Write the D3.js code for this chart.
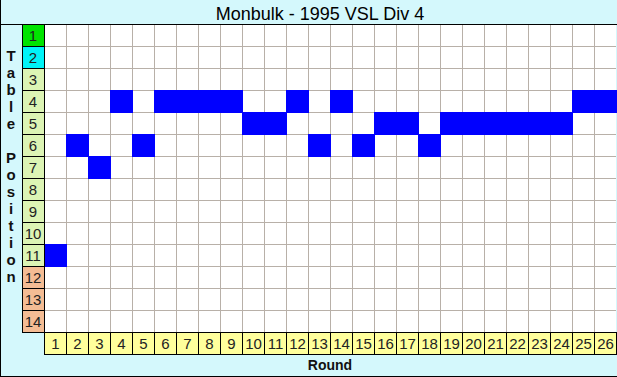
<!DOCTYPE html>
<html>
<head>
<meta charset="utf-8">
<script src="https://cdn.jsdelivr.net/npm/d3@7"></script>
<style>
  body { margin: 0; background: #fff; }
  svg { display: block; }
  text { font-family: Arial, "Liberation Sans", sans-serif; }
</style>
</head>
<body>
<div id="chart"></div>
<script>
// 数据
const title = 'Monbulk - 1995 VSL Div 4';
const rounds = d3.range(1, 27);
const positions = d3.range(1, 15);
const tablePosition = [11, 6, 7, 4, 6, 4, 4, 4, 4, 5, 5, 4, 6, 4, 6, 5, 5, 6, 5, 5, 5, 5, 5, 5, 4, 4];
const yLabel = ['T', 'a', 'b', 'l', 'e', '', 'P', 'o', 's', 'i', 't', 'i', 'o', 'n'];
const xLabel = 'Round';

const width = 617, height = 377;
const plot = { left: 44, top: 24, right: 616, bottom: 332 };

// 位置标签颜色
function posColor(p) {
  if (p === 1) return '#00e400';
  if (p === 2) return '#00f4f8';
  if (p >= 12) return '#f4bc94';
  return '#dcf4b4';
}

const svg = d3.select('#chart')
  .append('svg')
  .attr('width', width)
  .attr('height', height)
  .attr('shape-rendering', 'crispEdges');

// 背景
svg.append('rect')
  .attr('x', 0).attr('y', 0)
  .attr('width', width).attr('height', height)
  .style('fill', '#d4f8fc');

const x = d3.scaleBand().domain(rounds).range([plot.left, plot.right]);
const y = d3.scaleBand().domain(positions).range([plot.top, plot.bottom]);

// 白色绘图区
svg.append('rect')
  .attr('x', plot.left).attr('y', plot.top)
  .attr('width', plot.right - plot.left).attr('height', plot.bottom - plot.top)
  .style('fill', '#fff');

// 网格线
svg.append('g')
  .selectAll('line.v')
  .data(rounds.slice(1))
  .join('line')
  .attr('x1', d => x(d) + 0.5).attr('x2', d => x(d) + 0.5)
  .attr('y1', plot.top).attr('y2', plot.bottom)
  .style('stroke', '#b8b0a8');

svg.append('g')
  .selectAll('line.h')
  .data(positions.slice(1))
  .join('line')
  .attr('x1', plot.left).attr('x2', plot.right)
  .attr('y1', d => y(d) + 0.5).attr('y2', d => y(d) + 0.5)
  .style('stroke', '#b8b0a8');

// 数据格子
svg.append('g')
  .selectAll('rect')
  .data(tablePosition)
  .join('rect')
  .attr('x', (d, i) => x(rounds[i]))
  .attr('y', d => y(d))
  .attr('width', x.bandwidth() + 1)
  .attr('height', y.bandwidth() + 1)
  .style('fill', '#0000ff');

// 左侧位置标签
const rowCells = svg.append('g')
  .selectAll('g')
  .data(positions)
  .join('g');

rowCells.append('rect')
  .attr('x', plot.left - 22 + 0.5)
  .attr('y', d => y(d) + 0.5)
  .attr('width', 22)
  .attr('height', y.bandwidth())
  .style('fill', d => posColor(d))
  .style('stroke', '#000');

rowCells.append('text')
  .attr('x', plot.left - 11)
  .attr('y', d => y(d) + y.bandwidth() / 2 + 6)
  .attr('text-anchor', 'middle')
  .style('font-size', '15px')
  .style('fill', '#222')
  .text(d => d);

// 底部轮次标签
const colCells = svg.append('g')
  .selectAll('g')
  .data(rounds)
  .join('g');

colCells.append('rect')
  .attr('x', d => x(d) + 0.5)
  .attr('y', plot.bottom + 0.5)
  .attr('width', x.bandwidth())
  .attr('height', 22)
  .style('fill', '#ffff9c')
  .style('stroke', '#000');

colCells.append('text')
  .attr('x', d => x(d) + x.bandwidth() / 2 + 0.5)
  .attr('y', plot.bottom + 17)
  .attr('text-anchor', 'middle')
  .style('font-size', '15px')
  .style('fill', '#222')
  .text(d => d);

// 标题栏分隔线
svg.append('line')
  .attr('x1', 0).attr('x2', width)
  .attr('y1', plot.top + 0.5).attr('y2', plot.top + 0.5)
  .style('stroke', '#000');

svg.append('text')
  .attr('x', 320)
  .attr('y', 20)
  .attr('text-anchor', 'middle')
  .style('font-size', '18px')
  .style('fill', '#000')
  .text(title);

// y 轴标题（竖排字母）
svg.append('g')
  .selectAll('text')
  .data(yLabel)
  .join('text')
  .attr('x', 11)
  .attr('y', (d, i) => 61 + i * 17)
  .attr('text-anchor', 'middle')
  .style('font-size', '15px')
  .style('font-weight', 'bold')
  .style('fill', '#111')
  .text(d => d);

// x 轴标题
svg.append('text')
  .attr('x', 330)
  .attr('y', 370)
  .attr('text-anchor', 'middle')
  .style('font-size', '14px')
  .style('font-weight', 'bold')
  .style('fill', '#111')
  .text(xLabel);

// 外框
svg.append('line')
  .attr('x1', 0.5).attr('x2', 0.5)
  .attr('y1', 0).attr('y2', height)
  .style('stroke', '#000');
svg.append('line')
  .attr('x1', 0).attr('x2', width)
  .attr('y1', height - 0.5).attr('y2', height - 0.5)
  .style('stroke', '#000');
</script>
</body>
</html>
